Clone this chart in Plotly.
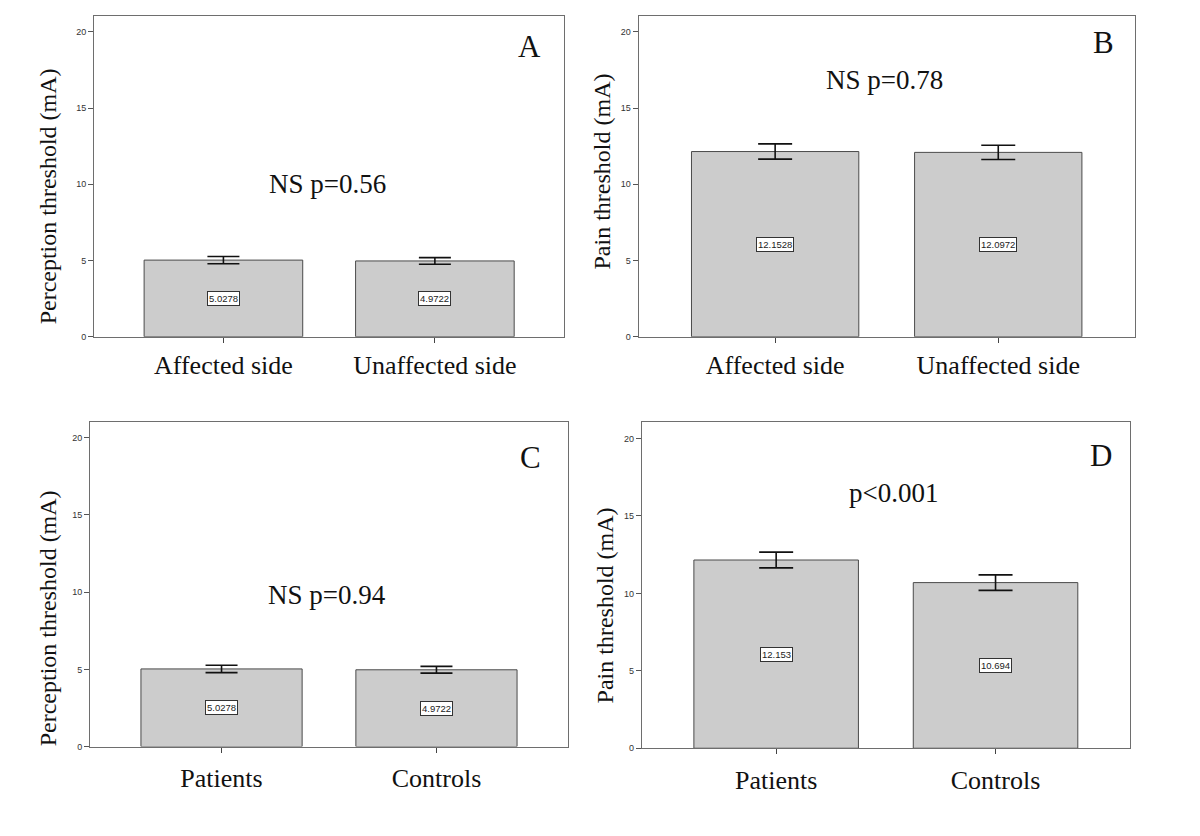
import plotly.graph_objects as go

# ---- data ----
side_categories = ["Affected side", "Unaffected side"]
group_categories = ["Patients", "Controls"]

perception_side = [5.0278, 4.9722]
perception_side_err = [0.24, 0.22]
pain_side = [12.1528, 12.0972]
pain_side_err = [0.50, 0.47]
perception_group = [5.0278, 4.9722]
perception_group_err = [0.24, 0.22]
pain_group = [12.153, 10.694]
pain_group_err = [0.51, 0.50]

panel_letters = ["A", "B", "C", "D"]
p_texts = ["NS p=0.56", "NS p=0.78", "NS p=0.94", "p<0.001"]
y_titles = ["Perception threshold (mA)", "Pain threshold (mA)",
            "Perception threshold (mA)", "Pain threshold (mA)"]
y_ticks = [0, 5, 10, 15, 20]

SERIF = "Liberation Serif"
SANS = "Liberation Sans"
W, H = 1200, 836
OFF = 8  # page body margin offset


def px(x):
    return (x - OFF) / W


def py(y):
    return 1 - (y - OFF) / H


panels = [
    dict(cats=side_categories, vals=perception_side, err=perception_side_err,
         x=(94, 564.3), y=(16, 338.7), cap=16, standoff=0,
         letter=(529, 47), ptxt=(327, 185), ytitle=(47.5, 198)),
    dict(cats=side_categories, vals=pain_side, err=pain_side_err,
         x=(638.6, 1134.8), y=(16, 338.7), cap=17, standoff=0,
         letter=(1103, 43), ptxt=(884, 80), ytitle=(602.5, 173)),
    dict(cats=group_categories, vals=perception_group, err=perception_group_err,
         x=(90, 568), y=(424, 751), cap=16, standoff=3,
         letter=(530, 460), ptxt=(327, 599), ytitle=(48, 622)),
    dict(cats=group_categories, vals=pain_group, err=pain_group_err,
         x=(641.9, 1129.8), y=(424.7, 752.7), cap=17, standoff=4,
         letter=(1101, 458), ptxt=(893, 496), ytitle=(605, 609)),
]

fig = go.Figure()
annotations = []
layout = {}

for i, p in enumerate(panels):
    n = "" if i == 0 else str(i + 1)
    xa, ya = "x" + n, "y" + n
    fig.add_trace(go.Bar(
        x=p["cats"], y=p["vals"], xaxis=xa, yaxis=ya, width=0.75,
        marker=dict(color="#cccccc", line=dict(color="#4a4a4a", width=1)),
        error_y=dict(type="data", array=p["err"], visible=True,
                     color="#111111", thickness=1.6, width=p["cap"]),
        showlegend=False, hoverinfo="skip",
    ))
    layout["xaxis" + n] = dict(
        domain=[px(p["x"][0]), px(p["x"][1])], anchor=ya,
        range=[-0.612, 1.612], showline=True, mirror=True,
        linecolor="#6e6e6e", linewidth=1, ticks="outside", ticklen=5,
        tickcolor="#444444", showgrid=False, zeroline=False,
        tickfont=dict(family=SERIF, size=26, color="#111111"),
        ticklabelstandoff=p["standoff"], fixedrange=True,
    )
    layout["yaxis" + n] = dict(
        domain=[py(p["y"][1]), py(p["y"][0])], anchor=xa,
        range=[0, 21.05], showline=True, mirror=True,
        linecolor="#6e6e6e", linewidth=1, ticks="outside", ticklen=5,
        tickcolor="#555555", tickvals=y_ticks, showgrid=False,
        zeroline=False, tickfont=dict(family=SANS, size=9, color="#333333"),
        fixedrange=True,
    )
    # value labels inside bars
    for c, v in zip(p["cats"], p["vals"]):
        annotations.append(dict(
            x=c, y=v / 2, xref=xa, yref=ya, text=str(v), showarrow=False,
            font=dict(family=SANS, size=9.5, color="#222222"),
            bgcolor="white", bordercolor="#333333", borderwidth=1, borderpad=1,
        ))
    # panel letter
    annotations.append(dict(
        x=px(p["letter"][0]), y=py(p["letter"][1]), xref="paper", yref="paper",
        text=panel_letters[i], showarrow=False, xanchor="center", yanchor="middle",
        font=dict(family=SERIF, size=31, color="#111111"),
    ))
    # p-value text
    annotations.append(dict(
        x=px(p["ptxt"][0]), y=py(p["ptxt"][1]), xref="paper", yref="paper",
        text=p_texts[i], showarrow=False, xanchor="center", yanchor="middle",
        font=dict(family=SERIF, size=27, color="#111111"),
    ))
    # y-axis title
    annotations.append(dict(
        x=px(p["ytitle"][0]), y=py(p["ytitle"][1]), xref="paper", yref="paper",
        text=y_titles[i], showarrow=False, textangle=-90,
        xanchor="center", yanchor="middle",
        font=dict(family=SERIF, size=24, color="#111111"),
    ))

fig.update_layout(
    width=W, height=H, margin=dict(l=0, r=0, t=0, b=0),
    paper_bgcolor="white", plot_bgcolor="white",
    annotations=annotations, **layout,
)

fig.write_html("out.html")
